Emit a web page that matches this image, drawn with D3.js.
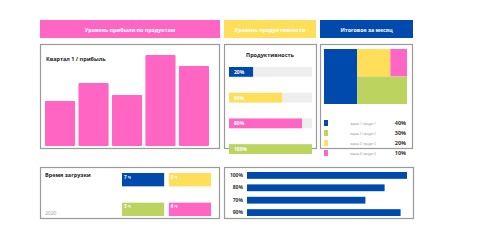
<!DOCTYPE html>
<html>
<head>
<meta charset="utf-8">
<script src="https://cdn.jsdelivr.net/npm/d3@7"></script>
<style>
  body { margin: 0; background: #fff; }
  svg { display: block; font-family: "Open Sans", sans-serif; }
</style>
</head>
<body>
<div id="chart"></div>
<script>
// --- data ---
var headers = ["Уровень прибыли по продуктам", "Уровень продуктивности", "Итоговое за месяц"];
var profitCats = ["A", "B", "C", "D", "E"];
var profitVals = [45, 63, 51, 91, 80];
var prodLabels = ["20%", "60%", "80%", "100%"];
var prodVals = [29, 64, 88, 100];
var monthNames = ["задача 1 / продукт 1", "задача 2 / продукт 2", "задача 3 / продукт 3", "задача 4 / продукт 4"];
var monthVals = [40, 30, 20, 10];
var loadLabels = ["7 ч", "8 ч", "3 ч", "6 ч"];
var loadTicks = ["100%", "80%", "70%", "90%"];
var loadVals = [100, 86, 74, 96];

var pink = "#ff66c4", yellow = "#ffde59", blue = "#004aad", green = "#bcd35f";
var prodColors = [blue, yellow, pink, green];
var monthColors = [blue, green, yellow, pink];
var loadColors = [blue, yellow, green, pink];

var svg = d3.select("#chart").append("svg").attr("width", 500).attr("height", 241);

// headers
var hdr = [
  { x: 40, w: 180, c: pink },
  { x: 224, w: 92, c: yellow },
  { x: 320, w: 93, c: blue }
];
hdr.forEach(function (h, i) {
  svg.append("rect").attr("x", h.x).attr("y", 20).attr("width", h.w).attr("height", 18).attr("fill", h.c);
  svg.append("text").attr("x", h.x + h.w / 2).attr("y", 31.5)
    .attr("text-anchor", "middle").attr("fill", "#fff")
    .attr("font-size", 5.3).attr("font-weight", "bold").text(headers[i]);
});

function panel(x, y, w, h) {
  svg.append("rect").attr("x", x).attr("y", y).attr("width", w).attr("height", h)
    .attr("fill", "none").attr("stroke", "#9a9a9a").attr("stroke-width", 1.2);
}
panel(40.5, 44.5, 179, 104);
panel(224.5, 44.5, 92, 104);
panel(320.5, 44.5, 92, 104);
panel(40.5, 167.5, 179, 51);
panel(224.5, 167.5, 189, 51);

// profit bars
var x = d3.scaleBand().domain(profitCats).range([45, 209]).paddingInner(0.1);
var y = d3.scaleLinear().domain([0, 100]).range([146, 46]);
svg.append("g").selectAll("rect").data(profitVals).join("rect")
  .attr("x", function (d, i) { return x(profitCats[i]); })
  .attr("y", function (d) { return y(d); })
  .attr("width", x.bandwidth())
  .attr("height", function (d) { return y(0) - y(d); })
  .attr("rx", 1)
  .attr("fill", pink);
svg.append("text").attr("x", 46).attr("y", 61).attr("font-size", 5.5).attr("font-weight", "bold")
  .attr("fill", "#222").text("Квартал 1 / прибыль");

// productivity
svg.append("text").attr("x", 270).attr("y", 57).attr("text-anchor", "middle").attr("font-size", 5.5)
  .attr("font-weight", "bold").attr("fill", "#222").text("Продуктивность");
var py = d3.scaleBand().domain(prodLabels).range([67, 154]).paddingInner(0.62);
var px = d3.scaleLinear().domain([0, 100]).range([229, 312]);
var pg = svg.append("g");
pg.selectAll("rect.track").data(prodLabels).join("rect").attr("class", "track")
  .attr("x", px(0)).attr("y", function (d) { return py(d); })
  .attr("width", px(100) - px(0)).attr("height", py.bandwidth()).attr("fill", "#eeeeee");
pg.selectAll("rect.bar").data(prodVals).join("rect").attr("class", "bar")
  .attr("x", px(0)).attr("y", function (d, i) { return py(prodLabels[i]); })
  .attr("width", function (d) { return px(d) - px(0); }).attr("height", py.bandwidth())
  .attr("fill", function (d, i) { return prodColors[i]; });
pg.selectAll("text").data(prodLabels).join("text")
  .attr("x", 234).attr("y", function (d) { return py(d) + py.bandwidth() / 2 + 2; })
  .attr("font-size", 5).attr("font-weight", "bold").attr("fill", "#fff").text(function (d) { return d; });

// treemap
var root = d3.hierarchy({
  children: [
    { i: 0, value: monthVals[0] },
    { children: [
      { children: [{ i: 2, value: monthVals[2] }, { i: 3, value: monthVals[3] }] },
      { i: 1, value: monthVals[1] }
    ] }
  ]
}).sum(function (d) { return d.value || 0; });
d3.treemap().tile(d3.treemapSliceDice).size([83, 55])(root);
svg.append("g").attr("transform", "translate(324,49)")
  .selectAll("rect").data(root.leaves()).join("rect")
  .attr("x", function (d) { return d.x0; }).attr("y", function (d) { return d.y0; })
  .attr("width", function (d) { return d.x1 - d.x0; }).attr("height", function (d) { return d.y1 - d.y0; })
  .attr("fill", function (d) { return monthColors[d.data.i]; });

// month legend
var ly = d3.scaleBand().domain(monthNames).range([119, 159]);
var lg = svg.append("g");
lg.selectAll("rect").data(monthNames).join("rect")
  .attr("x", 324).attr("y", function (d) { return ly(d) + 1; })
  .attr("width", 4).attr("height", 6)
  .attr("fill", function (d, i) { return monthColors[i]; });
lg.selectAll("text.n").data(monthNames).join("text").attr("class", "n")
  .attr("x", 363).attr("y", function (d) { return ly(d) + 5.5; })
  .attr("text-anchor", "middle").attr("font-size", 2.6).attr("fill", "#888").text(function (d) { return d; });
lg.selectAll("text.v").data(monthVals).join("text").attr("class", "v")
  .attr("x", 406).attr("y", function (d, i) { return ly(monthNames[i]) + 6; })
  .attr("text-anchor", "end").attr("font-size", 5.5).attr("font-weight", "bold").attr("fill", "#333")
  .text(function (d) { return d + "%"; });

// load time
svg.append("text").attr("x", 45).attr("y", 177).attr("font-size", 5.5).attr("font-weight", "bold")
  .attr("fill", "#222").text("Время загрузки");
svg.append("text").attr("x", 45).attr("y", 215).attr("font-size", 5).attr("fill", "#999").text("2020");
var cx = d3.scaleBand().domain([0, 1]).range([122, 211]).paddingInner(0.1);
var cy = d3.scaleBand().domain([0, 1]).range([173, 216]).paddingInner(0.55);
var cg = svg.append("g");
cg.selectAll("rect").data(loadLabels).join("rect")
  .attr("x", function (d, i) { return cx(i % 2); }).attr("y", function (d, i) { return cy(Math.floor(i / 2)); })
  .attr("width", cx.bandwidth()).attr("height", cy.bandwidth())
  .attr("fill", function (d, i) { return loadColors[i]; });
cg.selectAll("text").data(loadLabels).join("text")
  .attr("x", function (d, i) { return cx(i % 2) + 2; }).attr("y", function (d, i) { return cy(Math.floor(i / 2)) + 5.5; })
  .attr("font-size", 4.5).attr("font-weight", "bold").attr("fill", "#fff").text(function (d) { return d; });

// load percentages
var hy = d3.scaleBand().domain(loadTicks).range([172, 216]).paddingInner(0.45);
var hx = d3.scaleLinear().domain([0, 100]).range([247, 407]);
svg.append("g").selectAll("rect").data(loadVals).join("rect")
  .attr("x", hx(0)).attr("y", function (d, i) { return hy(loadTicks[i]); })
  .attr("width", function (d) { return hx(d) - hx(0); }).attr("height", hy.bandwidth())
  .attr("fill", blue);
svg.append("g").attr("transform", "translate(245,0)")
  .call(d3.axisLeft(hy).tickSize(0).tickPadding(2))
  .call(function (g) { g.select(".domain").remove(); })
  .selectAll("text").attr("font-size", 5).attr("font-weight", "bold").attr("fill", "#333")
  .attr("font-family", "Open Sans, sans-serif");
</script>
</body>
</html>
